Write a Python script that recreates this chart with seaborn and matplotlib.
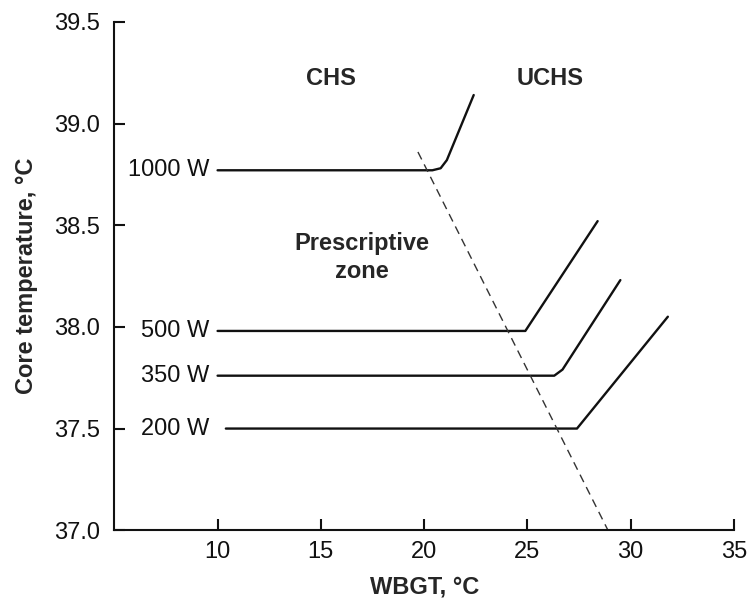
import numpy as np
import pandas as pd
import matplotlib
matplotlib.use('Agg')
import matplotlib.pyplot as plt
import seaborn as sns

# curves (WBGT, core temperature)
w1000_x = [10.0, 20.4, 20.8, 21.1, 22.4]
w1000_y = [38.77, 38.77, 38.78, 38.82, 39.14]
w500_x = [10.0, 24.9, 28.4]
w500_y = [37.98, 37.98, 38.52]
w350_x = [10.0, 26.3, 26.7, 29.5]
w350_y = [37.76, 37.76, 37.79, 38.23]
w200_x = [10.4, 27.4, 31.8]
w200_y = [37.50, 37.50, 38.05]
limit_x = [19.7, 28.9]
limit_y = [38.86, 37.0]

series_names = ['1000 W', '500 W', '350 W', '200 W']
label_y = [38.77, 37.98, 37.76, 37.50]

sns.set_style('ticks')
plt.rcParams['font.family'] = ['Liberation Sans', 'DejaVu Sans']

rows = []
for name, xs, ys in zip(series_names, [w1000_x, w500_x, w350_x, w200_x],
                        [w1000_y, w500_y, w350_y, w200_y]):
    for i, (a, b) in enumerate(zip(xs, ys)):
        rows.append({'power': name, 'order': i, 'wbgt': a, 'core': b})
df = pd.DataFrame(rows)

fig = plt.figure(figsize=(7.52, 6.06), dpi=100)
ax = fig.add_axes([0.152, 0.125, 0.824, 0.839])

sns.lineplot(data=df, x='wbgt', y='core', hue='power', units='power', estimator=None,
             sort=False, palette=['#111111'] * 4, linewidth=1.7, legend=False, ax=ax)
sns.lineplot(x=limit_x, y=limit_y, color='#333333', linewidth=1.0, dashes=False,
             linestyle=(0, (6, 4)), ax=ax)

for name, yv in zip(series_names, label_y):
    ax.text(9.6, yv, name, ha='right', va='center', fontsize=17, color='#111111')

ax.text(15.5, 39.22, 'CHS', ha='center', va='center', fontsize=17, fontweight='bold')
ax.text(26.1, 39.22, 'UCHS', ha='center', va='center', fontsize=17, fontweight='bold')
ax.text(17.0, 38.34, 'Prescriptive\nzone', ha='center', va='center', fontsize=17,
        fontweight='bold', linespacing=1.25)

ax.set_xlim(5, 35)
ax.set_ylim(37.0, 39.5)
ax.set_xticks([10, 15, 20, 25, 30, 35])
ax.set_yticks([37.0, 37.5, 38.0, 38.5, 39.0, 39.5])
ax.set_yticklabels(['37.0', '37.5', '38.0', '38.5', '39.0', '39.5'])
ax.tick_params(direction='in', length=8, width=1.5, labelsize=17, colors='#111111')
ax.tick_params(axis='x', pad=8)
ax.tick_params(axis='y', pad=10)

ax.set_xlabel('WBGT, °C', fontsize=17, fontweight='bold', labelpad=9)
ax.set_ylabel('Core temperature, °C', fontsize=17, fontweight='bold', labelpad=12)

sns.despine(ax=ax)
for s in ['left', 'bottom']:
    ax.spines[s].set_linewidth(1.5)
    ax.spines[s].set_color('#111111')

fig.savefig('out.png', dpi=100)
